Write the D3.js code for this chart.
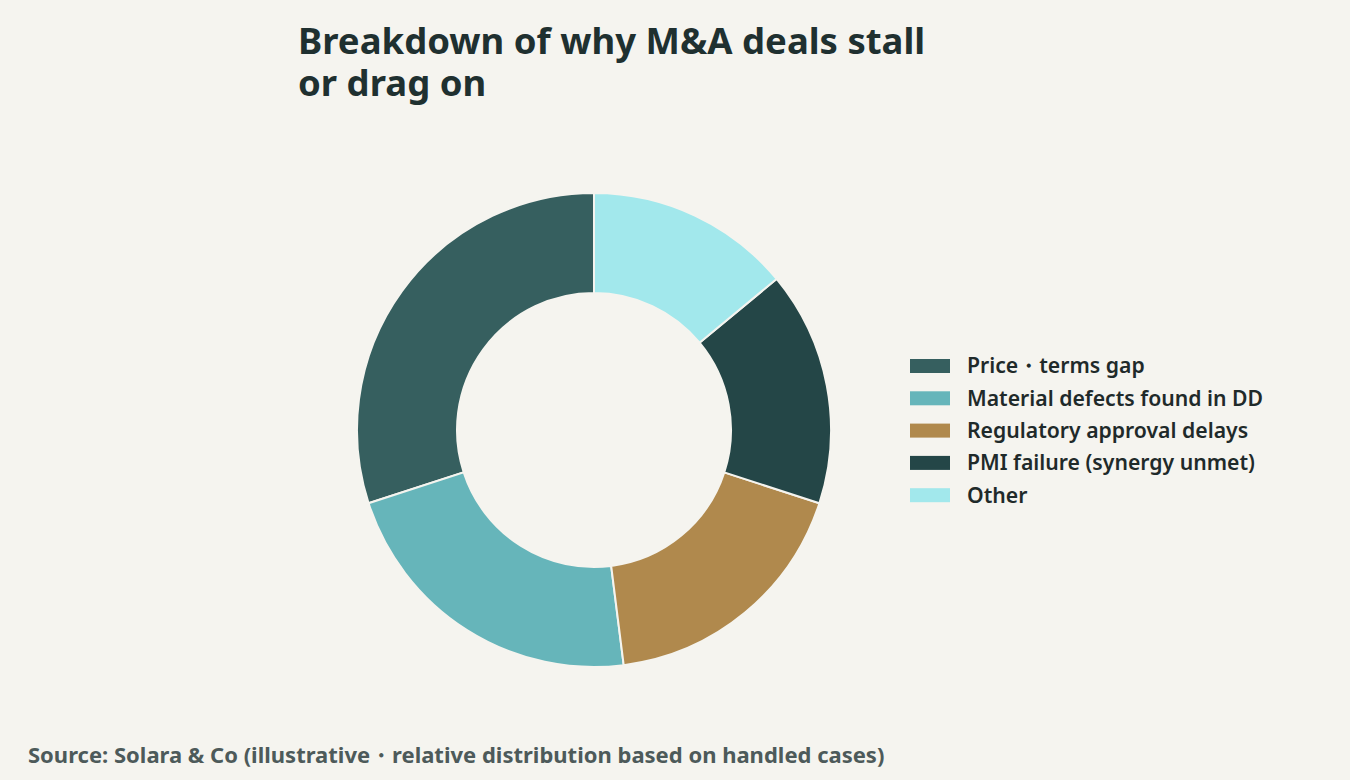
<!DOCTYPE html>
<html><head><meta charset="utf-8">
<script src="https://cdn.jsdelivr.net/npm/d3@7"></script>
<style>body{margin:0;background:#f5f4ef}</style>
</head><body><svg id="chart" width="1350" height="780"></svg>
<script>
const categories = ["Price\u30fbterms gap", "Material defects found in DD", "Regulatory approval delays", "PMI failure (synergy unmet)", "Other"];
const values = [30, 22, 18, 16, 14];
const colors = ["#365f5f", "#66b5ba", "#b0894d", "#244647", "#a2e8ec"];

const svg = d3.select("#chart").style("font-family", "'Source Sans Pro','Noto Sans',sans-serif");
svg.append("rect").attr("width", 1350).attr("height", 780).attr("fill", "#f5f4ef");

// title
svg.append("text").attr("x", 298).attr("y", 54).attr("font-size", 36.5).attr("font-weight", 700)
    .attr("fill", "#1f3030").text("Breakdown of why M&A deals stall");
svg.append("text").attr("x", 298).attr("y", 96).attr("font-size", 36.5).attr("font-weight", 700)
    .attr("fill", "#1f3030").text("or drag on");

const color = d3.scaleOrdinal(categories, colors);
const pie = d3.pie().sort(null).startAngle(0).endAngle(-2 * Math.PI);
const arc = d3.arc().innerRadius(137).outerRadius(237);

svg.append("g").attr("transform", "translate(594,430)")
    .selectAll("path")
    .data(pie(values))
    .join("path")
    .attr("d", arc)
    .attr("fill", (d, i) => color(categories[i]))
    .attr("stroke", "#f5f4ef")
    .attr("stroke-width", 2);

const legend = svg.append("g").selectAll("g")
    .data(categories)
    .join("g")
    .attr("transform", (d, i) => `translate(910,${366 + i * 32.3})`);
legend.append("rect").attr("x", 0).attr("y", -7).attr("width", 40).attr("height", 14).attr("fill", d => color(d));
legend.append("text").attr("x", 57).attr("y", 0).attr("dy", "0.35em")
    .attr("font-size", 21.2).attr("font-weight", 600).attr("fill", "#1f2a2a").text(d => d);

svg.append("text").attr("x", 28).attr("y", 763).attr("font-size", 22).attr("font-weight", 700)
    .attr("fill", "#4d5a5a").text("Source: Solara & Co (illustrative\u30fbrelative distribution based on handled cases)");
</script></body></html>
